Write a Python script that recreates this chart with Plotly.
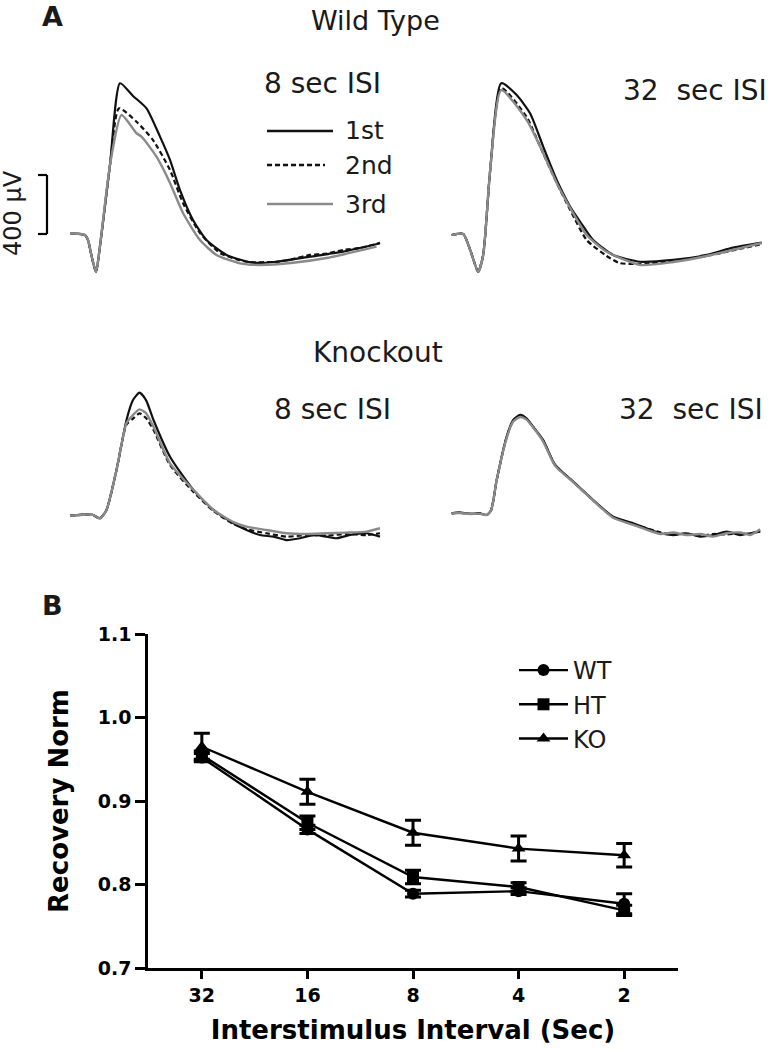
import plotly.graph_objects as go

W, H = 772, 1050


def px(x):
    return x / W


def py(y):
    return 1 - y / H


# ---------------- Panel A data: time (ms) and amplitude (µV) ----------------
# Wild type, 8 sec ISI
WT8_T1 = [0, 3, 3.6, 4.4, 5.2, 6, 8, 10, 12.6, 15.3, 18, 20, 22, 24.6, 27.3, 31.3, 36.6, 41.3, 48, 54.6, 62]
WT8_V1 = [5, -7, -41, -163, -258, -81, 468, 1022, 936, 852, 660, 502, 298, 95, -41, -142, -195, -188, -154, -120, -63]
WT8_T2 = [0, 3, 3.6, 4.4, 5.2, 6, 8, 9.8, 13.3, 16.6, 20, 22.6, 26, 30, 35.3, 41.3, 44.5, 48, 51.3, 54.6, 58, 62]
WT8_V2 = [5, -7, -41, -163, -258, -81, 468, 852, 761, 637, 434, 210, 7, -129, -188, -188, -170, -142, -133, -108, -95, -60]
WT8_T3 = [0, 3, 3.6, 4.4, 5.2, 6, 8, 10.3, 13.3, 14.3, 17.3, 20, 22.6, 26, 29.3, 34, 38, 44.6, 51.3, 61.3]
WT8_V3 = [5, -7, -41, -163, -258, -81, 468, 807, 683, 660, 524, 346, 142, -41, -142, -199, -210, -195, -163, -86]

# Wild type, 32 sec ISI
WT32_T1 = [0, 2.3, 3.7, 5.3, 6.3, 7.7, 9.9, 13, 15.7, 18.3, 21, 23.7, 25.7, 28.3, 32.3, 37.7, 44.3, 51, 55.7, 62]
WT32_V1 = [-7, 0, -108, -256, -142, 434, 1022, 942, 817, 592, 366, 185, 83, -41, -142, -188, -176, -142, -97, -59]
WT32_T2 = [0, 2.3, 3.7, 5.3, 6.3, 7.7, 9.9, 15, 17.7, 21, 23.7, 27, 31, 33.6, 37.7, 44.3, 51, 62]
WT32_V2 = [-7, 0, -108, -256, -142, 434, 990, 793, 592, 346, 163, -41, -149, -197, -203, -183, -149, -68]
WT32_T3 = [0, 2.3, 3.7, 5.3, 6.3, 7.7, 9.9, 15, 17.7, 21, 23.7, 27, 31, 37.7, 44.3, 51, 62]
WT32_V3 = [-7, 0, -108, -256, -142, 434, 976, 773, 592, 346, 176, -7, -120, -210, -190, -149, -61]

# Knockout, 8 sec ISI
KO8_T1 = [0, 2, 4.3, 6, 7.3, 9.3, 11.3, 12.6, 13.9, 15.2, 16.7, 20, 24.7, 28.7, 32.7, 35.3, 38, 40.7, 43.3, 46, 48.7, 51.3, 53.3, 56, 59.3, 62]
KO8_V1 = [2, 7, 12, -16, 41, 312, 651, 786, 836, 786, 651, 402, 176, 41, -49, -95, -129, -140, -163, -151, -129, -140, -151, -129, -117, -140]
KO8_T2 = [0, 2, 4.3, 6, 7.3, 9.3, 11.3, 12.6, 13.9, 15.2, 16.7, 20, 24.7, 28.7, 32.7, 35.3, 39.3, 43.3, 47.3, 51.3, 55.3, 59.3, 62]
KO8_V2 = [2, 7, 12, -16, 41, 312, 620, 660, 696, 664, 583, 346, 163, 34, -54, -90, -117, -140, -129, -133, -122, -129, -117]
KO8_T3 = [0, 2, 4.3, 6, 7.3, 9.3, 11.3, 12.6, 13.9, 15.2, 16.7, 20, 24.7, 28.7, 32.7, 35.3, 39.3, 43.3, 47.3, 51.3, 55.3, 59.3, 62]
KO8_V3 = [2, 7, 12, -16, 41, 312, 630, 685, 723, 698, 605, 357, 176, 41, -41, -72, -95, -117, -122, -117, -113, -106, -83]

# Knockout, 32 sec ISI
KO32_T = [0, 1.5, 3.7, 5.5, 7, 7.9, 9, 11, 12.3, 13.7, 14.9, 16.3, 18.3, 20.7, 24.3, 28.3, 32.3, 36.3, 41.7, 44.3, 47, 49.7, 52.3, 55, 57.7, 59.7, 61.7]
KO32_V1 = [18, 25, 14, 20, 7, 41, 244, 538, 651, 685, 664, 605, 515, 346, 233, 108, -5, -49, -117, -129, -117, -140, -129, -106, -129, -117, -106]
KO32_V2 = [18, 22, 14, 18, 7, 41, 244, 538, 645, 678, 660, 602, 510, 343, 231, 106, -8, -55, -110, -125, -120, -135, -122, -125, -118, -120, -100]
KO32_V3 = [18, 20, 14, 16, 7, 41, 244, 530, 640, 671, 655, 600, 505, 340, 230, 105, -12, -60, -122, -112, -129, -122, -140, -117, -112, -129, -90]

TRACE_NAMES = ["1st", "2nd", "3rd"]
SCALE_UV = 400

# ---------------- Panel B data ----------------
ISI_LABELS = ["32", "16", "8", "4", "2"]
WT_MEAN = [0.952, 0.866, 0.789, 0.792, 0.777]
WT_SEM = [0.005, 0.005, 0.004, 0.004, 0.012]
HT_MEAN = [0.955, 0.874, 0.809, 0.797, 0.769]
HT_SEM = [0.005, 0.008, 0.008, 0.005, 0.006]
KO_MEAN = [0.965, 0.911, 0.862, 0.843, 0.835]
KO_SEM = [0.016, 0.015, 0.015, 0.015, 0.014]

# ---------------- styles ----------------
BLACK = "#111111"
GRAY = "#8a8a8a"
STYLES = [
    dict(color=BLACK, width=2.2, dash="solid"),
    dict(color=BLACK, width=2.2, dash="5px,3px"),
    dict(color=GRAY, width=2.4, dash="solid"),
]
TXT = "#1a1a1a"
FONT = "DejaVu Sans"

fig = go.Figure()

panels = [
    ("x2", "y2", [(WT8_T1, WT8_V1), (WT8_T2, WT8_V2), (WT8_T3, WT8_V3)]),
    ("x3", "y3", [(WT32_T1, WT32_V1), (WT32_T2, WT32_V2), (WT32_T3, WT32_V3)]),
    ("x4", "y4", [(KO8_T1, KO8_V1), (KO8_T2, KO8_V2), (KO8_T3, KO8_V3)]),
    ("x5", "y5", [(KO32_T, KO32_V1), (KO32_T, KO32_V2), (KO32_T, KO32_V3)]),
]
for xa, ya, series in panels:
    for (t, v), st, nm in zip(series, STYLES, TRACE_NAMES):
        fig.add_trace(go.Scatter(
            x=t, y=v, xaxis=xa, yaxis=ya, mode="lines", name=nm,
            line=dict(color=st["color"], width=st["width"], dash=st["dash"],
                      shape="spline", smoothing=0.6),
            showlegend=False, hoverinfo="skip"))

# Panel B traces
for name, mean, sem, sym in [("WT", WT_MEAN, WT_SEM, "circle"),
                             ("HT", HT_MEAN, HT_SEM, "square"),
                             ("KO", KO_MEAN, KO_SEM, "triangle-up")]:
    fig.add_trace(go.Scatter(
        x=ISI_LABELS, y=mean, name=name, mode="lines+markers",
        legendgroup=name,
        line=dict(color="black", width=2.4),
        marker=dict(symbol=sym, size=12, color="black"),
        error_y=dict(type="data", array=sem, color="black", thickness=3, width=8),
        xaxis="x", yaxis="y"))

# axes for traces (hidden), ranges map the time / µV scale onto the page
WT_YR = [(234 - 290) * 6.78, (234 - 60) * 6.78]
KO_YR = [(516 - 550) * 6.78, (516 - 370) * 6.78]
L_XR = [(60 - 70) * 0.2, (390 - 70) * 0.2]
R_XR = [(440 - 451.7) * 0.2, (772 - 451.7) * 0.2]
hid = dict(visible=False, showgrid=False, zeroline=False, fixedrange=True, automargin=False)

fig.update_layout(
    width=W, height=H, margin=dict(l=0, r=0, t=0, b=0, pad=0, autoexpand=False),
    paper_bgcolor="white", plot_bgcolor="white",
    font=dict(family=FONT, color=TXT),
    xaxis2=dict(domain=[px(60), px(390)], range=L_XR, anchor="y2", **hid),
    yaxis2=dict(domain=[py(290), py(60)], range=WT_YR, anchor="x2", **hid),
    xaxis3=dict(domain=[px(440), px(772)], range=R_XR, anchor="y3", **hid),
    yaxis3=dict(domain=[py(290), py(60)], range=WT_YR, anchor="x3", **hid),
    xaxis4=dict(domain=[px(60), px(390)], range=L_XR, anchor="y4", **hid),
    yaxis4=dict(domain=[py(550), py(370)], range=KO_YR, anchor="x4", **hid),
    xaxis5=dict(domain=[px(440), px(772)], range=R_XR, anchor="y5", **hid),
    yaxis5=dict(domain=[py(550), py(370)], range=KO_YR, anchor="x5", **hid),
    xaxis=dict(domain=[px(148), px(678)], anchor="y", type="category", automargin=False,
               range=[-0.51, 4.51], showline=True, linecolor="black", linewidth=2.5,
               ticks="outside", ticklen=8, tickwidth=2.5, tickcolor="black",
               showgrid=False, zeroline=False,
               tickfont=dict(family=FONT, size=19, color="black", weight="bold"),
               title=dict(text="Interstimulus Interval (Sec)", standoff=17,
                          font=dict(family=FONT, size=26, color="black", weight="bold"))),
    yaxis=dict(domain=[py(968), py(634)], anchor="x", range=[0.7, 1.1], automargin=False,
               tickvals=[0.7, 0.8, 0.9, 1.0, 1.1], tickformat=".1f",
               showline=True, linecolor="black", linewidth=2.5,
               ticks="outside", ticklen=10, tickwidth=2.5, tickcolor="black",
               showgrid=False, zeroline=False,
               tickfont=dict(family=FONT, size=19, color="black", weight="bold"),
               title=dict(text="Recovery Norm", standoff=22,
                          font=dict(family=FONT, size=26, color="black", weight="bold"))),
    legend=dict(x=px(514), y=py(648), xanchor="left", yanchor="top",
                font=dict(family=FONT, size=24, color=TXT), itemwidth=49,
                bgcolor="rgba(0,0,0,0)", tracegroupgap=0),
)

# scale bar (400 µV on the wild-type 8 s axis)
bar = dict(type="line", line=dict(color="black", width=2.2), yref="y2", xref="paper")
fig.add_shape(x0=px(47), x1=px(47), y0=0, y1=SCALE_UV, **bar)
fig.add_shape(x0=px(38), x1=px(47), y0=0, y1=0, **bar)
fig.add_shape(x0=px(38), x1=px(47), y0=SCALE_UV, y1=SCALE_UV, **bar)

# legend of panel A
leg_y = [131, 165, 204]
leg_x1 = [333, 325, 333]
for yy, x1, st, nm in zip(leg_y, leg_x1, STYLES, TRACE_NAMES):
    fig.add_shape(type="line", xref="paper", yref="paper", x0=px(267), x1=px(x1),
                  y0=py(yy), y1=py(yy),
                  line=dict(color=st["color"], width=2.6, dash=st["dash"]))
    fig.add_annotation(text=nm, xref="paper", yref="paper", x=px(343), y=py(yy),
                       xanchor="left", yanchor="middle", showarrow=False,
                       font=dict(family=FONT, size=25, color=TXT))


def label(text, x, y, size, xanchor="center", bold=False, angle=0):
    fig.add_annotation(text=text, xref="paper", yref="paper", x=px(x), y=py(y),
                       xanchor=xanchor, yanchor="middle", showarrow=False,
                       textangle=angle,
                       font=dict(family=FONT, size=size, color=TXT,
                                 weight="bold" if bold else "normal"))


label("A", 52, 16, 27, bold=True)
label("B", 52, 605, 27, bold=True)
label("Wild Type", 375, 20, 27)
label("8 sec ISI", 262, 84, 28, xanchor="left")
label("32\u00a0\u00a0sec ISI", 621, 90, 28, xanchor="left")
label("Knockout", 378, 353, 28)
label("8 sec ISI", 272, 410, 28, xanchor="left")
label("32\u00a0\u00a0sec ISI", 617, 410, 28, xanchor="left")
label("400 µV", 13, 213, 24, angle=-90)

fig.write_html("out.html", config={"displayModeBar": False},
               post_script="document.body.style.margin='0px';")
